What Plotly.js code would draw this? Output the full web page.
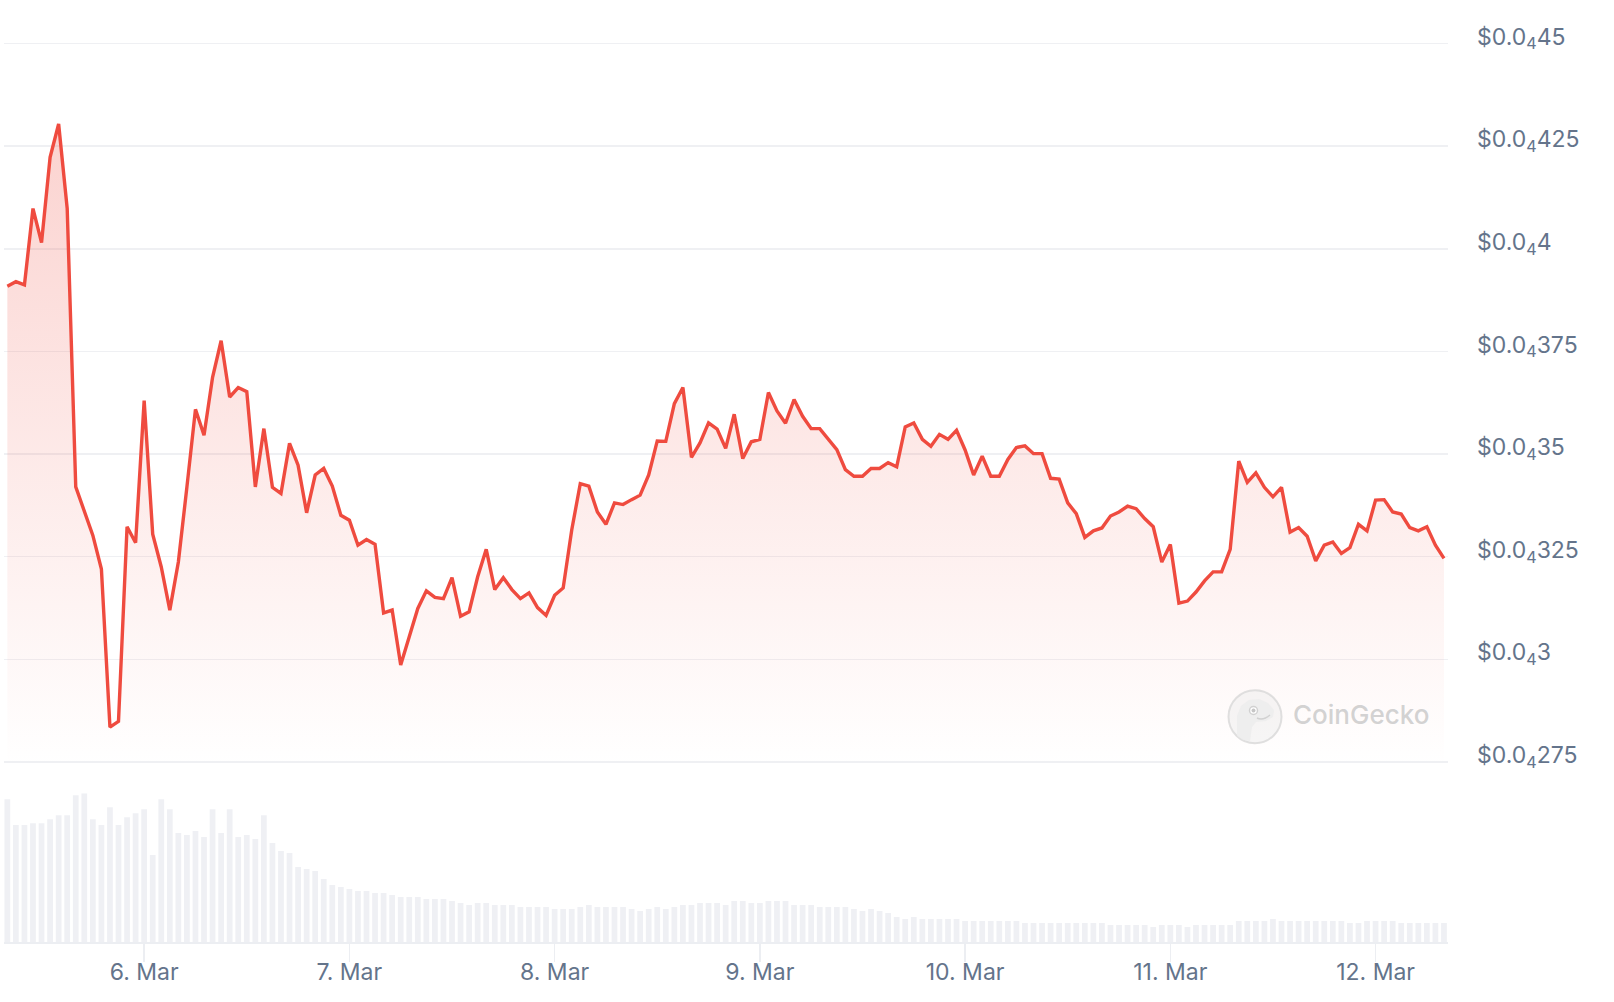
<!DOCTYPE html>
<html>
<head>
<meta charset="utf-8">
<script src="https://cdn.plot.ly/plotly-3.0.1.min.js"></script>
<style>
  html, body { margin: 0; padding: 0; background: #ffffff; }
  #chart { width: 1614px; height: 1002px; }
</style>
</head>
<body>
<div id="chart"></div>
<script>
// ---------- data (hourly, starting 5 Mar 08:00) ----------
const startTime = [2024, 2, 5, 8];   // year, monthIndex, day, hour

const price = [
  3.909e-5, 3.920e-5, 3.912e-5, 4.098e-5, 4.015e-5, 4.223e-5, 4.304e-5, 4.098e-5, 3.420e-5, 3.363e-5,
  3.302e-5, 3.220e-5, 2.835e-5, 2.849e-5, 3.323e-5, 3.284e-5, 3.630e-5, 3.305e-5, 3.225e-5, 3.120e-5,
  3.237e-5, 3.420e-5, 3.609e-5, 3.546e-5, 3.687e-5, 3.776e-5, 3.639e-5, 3.662e-5, 3.652e-5, 3.420e-5,
  3.562e-5, 3.419e-5, 3.404e-5, 3.526e-5, 3.473e-5, 3.357e-5, 3.449e-5, 3.465e-5, 3.422e-5, 3.351e-5,
  3.339e-5, 3.278e-5, 3.292e-5, 3.280e-5, 3.113e-5, 3.120e-5, 2.986e-5, 3.055e-5, 3.124e-5, 3.167e-5,
  3.151e-5, 3.148e-5, 3.199e-5, 3.105e-5, 3.116e-5, 3.201e-5, 3.268e-5, 3.170e-5, 3.199e-5, 3.170e-5,
  3.148e-5, 3.162e-5, 3.126e-5, 3.107e-5, 3.156e-5, 3.174e-5, 3.315e-5, 3.428e-5, 3.422e-5, 3.359e-5,
  3.329e-5, 3.381e-5, 3.377e-5, 3.389e-5, 3.400e-5, 3.449e-5, 3.532e-5, 3.531e-5, 3.623e-5, 3.662e-5,
  3.492e-5, 3.527e-5, 3.576e-5, 3.561e-5, 3.514e-5, 3.597e-5, 3.489e-5, 3.530e-5, 3.536e-5, 3.650e-5,
  3.605e-5, 3.575e-5, 3.633e-5, 3.592e-5, 3.562e-5, 3.562e-5, 3.538e-5, 3.511e-5, 3.462e-5, 3.446e-5,
  3.446e-5, 3.465e-5, 3.465e-5, 3.479e-5, 3.469e-5, 3.566e-5, 3.576e-5, 3.536e-5, 3.519e-5, 3.548e-5,
  3.536e-5, 3.558e-5, 3.510e-5, 3.449e-5, 3.495e-5, 3.446e-5, 3.446e-5, 3.487e-5, 3.516e-5, 3.520e-5,
  3.501e-5, 3.501e-5, 3.441e-5, 3.439e-5, 3.381e-5, 3.355e-5, 3.297e-5, 3.313e-5, 3.320e-5, 3.349e-5,
  3.359e-5, 3.373e-5, 3.367e-5, 3.343e-5, 3.323e-5, 3.237e-5, 3.280e-5, 3.137e-5, 3.142e-5, 3.164e-5,
  3.191e-5, 3.213e-5, 3.213e-5, 3.268e-5, 3.483e-5, 3.431e-5, 3.454e-5, 3.419e-5, 3.396e-5, 3.419e-5,
  3.310e-5, 3.321e-5, 3.300e-5, 3.240e-5, 3.278e-5, 3.286e-5, 3.258e-5, 3.272e-5, 3.329e-5, 3.313e-5,
  3.388e-5, 3.389e-5, 3.359e-5, 3.354e-5, 3.321e-5, 3.313e-5, 3.323e-5, 3.278e-5, 3.246e-5
];

// relative hourly volume (bar heights)
const volume = [
  143, 117, 117, 119, 119, 123, 127, 127, 147, 149,
  123, 117, 135, 117, 125, 129, 133, 87, 143, 133,
  109, 107, 111, 105, 133, 109, 133, 105, 107, 103,
  127, 99, 91, 89, 75, 73, 71, 63, 57, 55,
  53, 51, 51, 49, 49, 47, 45, 45, 45, 43,
  43, 43, 41, 39, 37, 39, 39, 37, 37, 37,
  35, 35, 35, 35, 33, 33, 33, 35, 37, 35,
  35, 35, 35, 33, 31, 33, 35, 33, 35, 37,
  37, 39, 39, 39, 37, 41, 41, 39, 39, 41,
  41, 41, 37, 37, 37, 35, 35, 35, 35, 33,
  31, 33, 31, 29, 25, 23, 25, 23, 23, 23,
  23, 23, 21, 21, 21, 21, 21, 21, 21, 19,
  19, 19, 19, 19, 19, 19, 19, 19, 19, 17,
  17, 17, 17, 17, 15, 17, 17, 17, 15, 17,
  17, 17, 17, 17, 21, 21, 21, 21, 23, 21,
  21, 21, 21, 21, 21, 21, 21, 19, 19, 21,
  21, 21, 21, 19, 19, 19, 19, 19, 19
];

const priceTickVals = [2.75e-5, 3.0e-5, 3.25e-5, 3.5e-5, 3.75e-5, 4.0e-5, 4.25e-5, 4.5e-5];
const priceTickText = [
  '$0.0<sub>4</sub>275', '$0.0<sub>4</sub>3', '$0.0<sub>4</sub>325', '$0.0<sub>4</sub>35',
  '$0.0<sub>4</sub>375', '$0.0<sub>4</sub>4', '$0.0<sub>4</sub>425', '$0.0<sub>4</sub>45'
];

// ---------- build time axis ----------
const HOUR = 3600 * 1000;
const t0 = Date.UTC(startTime[0], startTime[1], startTime[2], startTime[3]);
function fmt(ms) {
  return new Date(ms).toISOString().slice(0, 19).replace('T', ' ');
}
const times = price.map((_, i) => fmt(t0 + i * HOUR));
const xRange = [fmt(t0 - 0.39 * HOUR), fmt(t0 + (price.length - 1) * HOUR + 0.47 * HOUR)];

const RED = 'rgb(239,75,63)';
const TXT = '#64748b';
const GRID = '#eff0f3';
const FONT = 'Inter, "Noto Sans", sans-serif';

// watermark geometry helpers (pixel -> paper), plot area: x 4..1448, y 0..942
const PL = 4, PW = 1444, PB = 942, PH = 942;
const px = x => (x - PL) / PW;
const py = y => (PB - y) / PH;
function pathPx(pts) {
  return pts.map((p, i) => (i ? 'L' : 'M') + px(p[0]).toFixed(5) + ',' + py(p[1]).toFixed(5)).join(' ') + ' Z';
}

const volTrace = {
  type: 'bar',
  x: times,
  y: volume,
  xaxis: 'x',
  yaxis: 'y2',
  marker: { color: '#eff0f4', line: { width: 0 } },
  hoverinfo: 'skip'
};

const priceTrace = {
  type: 'scatter',
  mode: 'lines',
  x: times,
  y: price,
  xaxis: 'x',
  yaxis: 'y',
  line: { color: RED, width: 3.4, shape: 'linear' },
  fill: 'tozeroy',
  fillgradient: {
    type: 'vertical',
    start: 2.74e-5,
    stop: 4.32e-5,
    colorscale: [[0, 'rgba(239,75,63,0.0)'], [1, 'rgba(239,75,63,0.25)']]
  },
  hoverinfo: 'skip'
};

const layout = {
  width: 1614,
  height: 1002,
  margin: { l: 4, r: 166, t: 0, b: 60, pad: 0 },
  paper_bgcolor: '#ffffff',
  plot_bgcolor: 'rgba(0,0,0,0)',
  showlegend: false,
  font: { family: FONT, size: 23, color: TXT },
  bargap: 0.33,
  xaxis: {
    type: 'date',
    anchor: 'y2',
    range: xRange,
    tick0: '2024-03-06',
    dtick: 86400000,
    tickformat: '%-d. %b',
    ticks: 'outside',
    ticklen: 18,
    tickwidth: 1.5,
    tickcolor: '#eceef2',
    showgrid: false,
    zeroline: false,
    showline: true,
    linecolor: '#eceef2',
    linewidth: 1.5,
    ticklabelstandoff: -9,
    tickfont: { family: FONT, size: 23, color: TXT }
  },
  yaxis: {
    domain: [0.1876, 1],
    range: [2.742e-5, 4.606e-5],
    side: 'right',
    tickmode: 'array',
    tickvals: priceTickVals,
    ticktext: priceTickText,
    showgrid: true,
    gridcolor: GRID,
    gridwidth: 1.5,
    zeroline: false,
    showline: false,
    ticks: '',
    ticklabelstandoff: 28,
    ticklabelshift: -7,
    tickfont: { family: FONT, size: 23, color: TXT }
  },
  yaxis2: {
    domain: [0, 0.158],
    range: [0, Math.max(...volume)],
    visible: false,
    fixedrange: true
  },
  shapes: [
    // logo ring
    { type: 'circle', xref: 'paper', yref: 'paper', x0: px(1228.5), x1: px(1281.5), y0: py(743.2), y1: py(690.2),
      fillcolor: 'rgba(228,228,228,0.35)', line: { color: 'rgba(214,214,214,0.75)', width: 2 } },
    // gecko head
    { type: 'path', xref: 'paper', yref: 'paper',
      path: pathPx([[1237, 736], [1237, 716], [1241, 706], [1249, 700], [1259, 699], [1268, 703], [1274, 710],
                    [1273, 717], [1266, 721], [1256, 722], [1252, 727], [1250, 741], [1243, 740]]),
      fillcolor: 'rgba(236,236,236,0.85)', line: { width: 0 } },
    // eye
    { type: 'circle', xref: 'paper', yref: 'paper', x0: px(1249.5), x1: px(1257.5), y0: py(714.5), y1: py(706.5),
      fillcolor: 'rgba(255,255,255,0.95)', line: { color: 'rgba(205,205,205,0.9)', width: 1.5 } },
    { type: 'circle', xref: 'paper', yref: 'paper', x0: px(1251.5), x1: px(1255.5), y0: py(712.5), y1: py(708.5),
      fillcolor: 'rgba(195,195,195,0.95)', line: { width: 0 } },
    // mouth
    { type: 'path', xref: 'paper', yref: 'paper',
      path: 'M' + px(1257) + ',' + py(718) + ' Q' + px(1263) + ',' + py(721) + ' ' + px(1270) + ',' + py(715),
      line: { color: 'rgba(205,205,205,0.9)', width: 1.5 } }
  ],
  annotations: [
    { xref: 'paper', yref: 'paper', x: px(1291), y: py(714), xanchor: 'left', yanchor: 'middle',
      text: 'CoinGecko', showarrow: false,
      font: { family: FONT, size: 26, color: 'rgba(205,205,205,0.9)', weight: 500 } }
  ]
};

Plotly.newPlot('chart', [volTrace, priceTrace], layout, { displayModeBar: false, staticPlot: true });
</script>
</body>
</html>
